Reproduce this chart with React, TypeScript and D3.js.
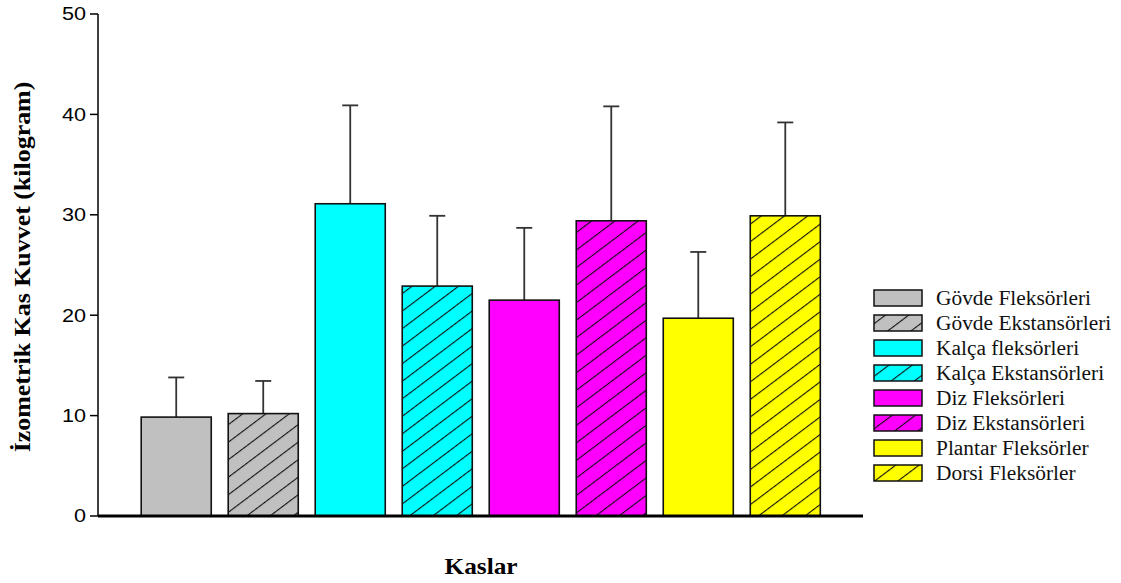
import React from "react";
import * as d3 from "d3";

const categories = [
  "Gövde Fleksörleri",
  "Gövde Ekstansörleri",
  "Kalça fleksörleri",
  "Kalça Ekstansörleri",
  "Diz Fleksörleri",
  "Diz Ekstansörleri",
  "Plantar Fleksörler",
  "Dorsi Fleksörler",
];
const means = [9.85, 10.2, 31.1, 22.9, 21.5, 29.4, 19.7, 29.9];
const upper = [13.8, 13.45, 40.9, 29.9, 28.7, 40.8, 26.3, 39.2];
const colors = ["#c0c0c0", "#c0c0c0", "#00ffff", "#00ffff", "#ff00ff", "#ff00ff", "#ffff00", "#ffff00"];
const hatched = [false, true, false, true, false, true, false, true];
const yTicks = [0, 10, 20, 30, 40, 50];

export default function App() {
  const W = 1121, H = 583;
  const y = d3.scaleLinear().domain([0, 50]).range([516, 14]);
  const x = d3.scaleBand<number>().domain(d3.range(8)).range([132.5, 829]).paddingInner(0.195).paddingOuter(0.1);
  const bw = x.bandwidth();
  const legY = d3.scaleBand<number>().domain(d3.range(8)).range([285, 485]);
  const serif = "Liberation Serif, Times New Roman, serif";
  return (
    <svg width={W} height={H} style={{ position: "absolute", left: 0, top: 0, background: "#fff" }}>
      <defs>
        {colors.map((c, i) => (
          <pattern key={i} id={`h${i}`} patternUnits="userSpaceOnUse" width={14} height={14} patternTransform="rotate(53)">
            <rect width={14} height={14} fill={c} />
            <line x1={0} y1={0} x2={0} y2={14} stroke="#111" strokeWidth={2.2} />
          </pattern>
        ))}
      </defs>
      {/* y axis */}
      <line x1={98} x2={98} y1={y(50)} y2={y(0)} stroke="#000" strokeWidth={1.5} />
      {yTicks.map((t) => (
        <g key={t}>
          <line x1={90} x2={98} y1={y(t)} y2={y(t)} stroke="#000" strokeWidth={1.5} />
          <text transform={`translate(86,${y(t)}) scale(1.2,1)`} dy="0.35em" textAnchor="end" fontFamily="Liberation Sans, Arial, sans-serif" fontSize={18} fill="#000">{t}</text>
        </g>
      ))}
      <text transform={`translate(30,267) rotate(-90) scale(1.08,1)`} textAnchor="middle" fontFamily={serif} fontWeight="bold" fontSize={24} fill="#000">İzometrik Kas Kuvvet (kilogram)</text>
      {/* bars */}
      {means.map((m, i) => {
        const bx = x(i)!;
        const cx = bx + bw / 2;
        return (
          <g key={i}>
            <line x1={cx} x2={cx} y1={y(m)} y2={y(upper[i])} stroke="#333" strokeWidth={1.8} />
            <line x1={cx - 8} x2={cx + 8} y1={y(upper[i])} y2={y(upper[i])} stroke="#333" strokeWidth={1.8} />
            <rect x={bx} y={y(m)} width={bw} height={y(0) - y(m)} fill={hatched[i] ? `url(#h${i})` : colors[i]} stroke="#111" strokeWidth={1.6} />
          </g>
        );
      })}
      <line x1={98} x2={863} y1={y(0)} y2={y(0)} stroke="#000" strokeWidth={2.8} />
      <text transform="translate(481,574) scale(1.1,1)" textAnchor="middle" fontFamily={serif} fontWeight="bold" fontSize={23} fill="#000">Kaslar</text>
      {/* legend */}
      {categories.map((c, i) => {
        const ly = legY(i)! + legY.bandwidth() / 2;
        return (
          <g key={c}>
            <rect x={874} y={ly - 7.5} width={48} height={16} fill={hatched[i] ? `url(#h${i})` : colors[i]} stroke="#111" strokeWidth={1.5} />
            <text transform={`translate(936,${ly}) scale(1.07,1)`} dy="0.35em" fontFamily={serif} fontSize={20} fill="#111">{c}</text>
          </g>
        );
      })}
    </svg>
  );
}
